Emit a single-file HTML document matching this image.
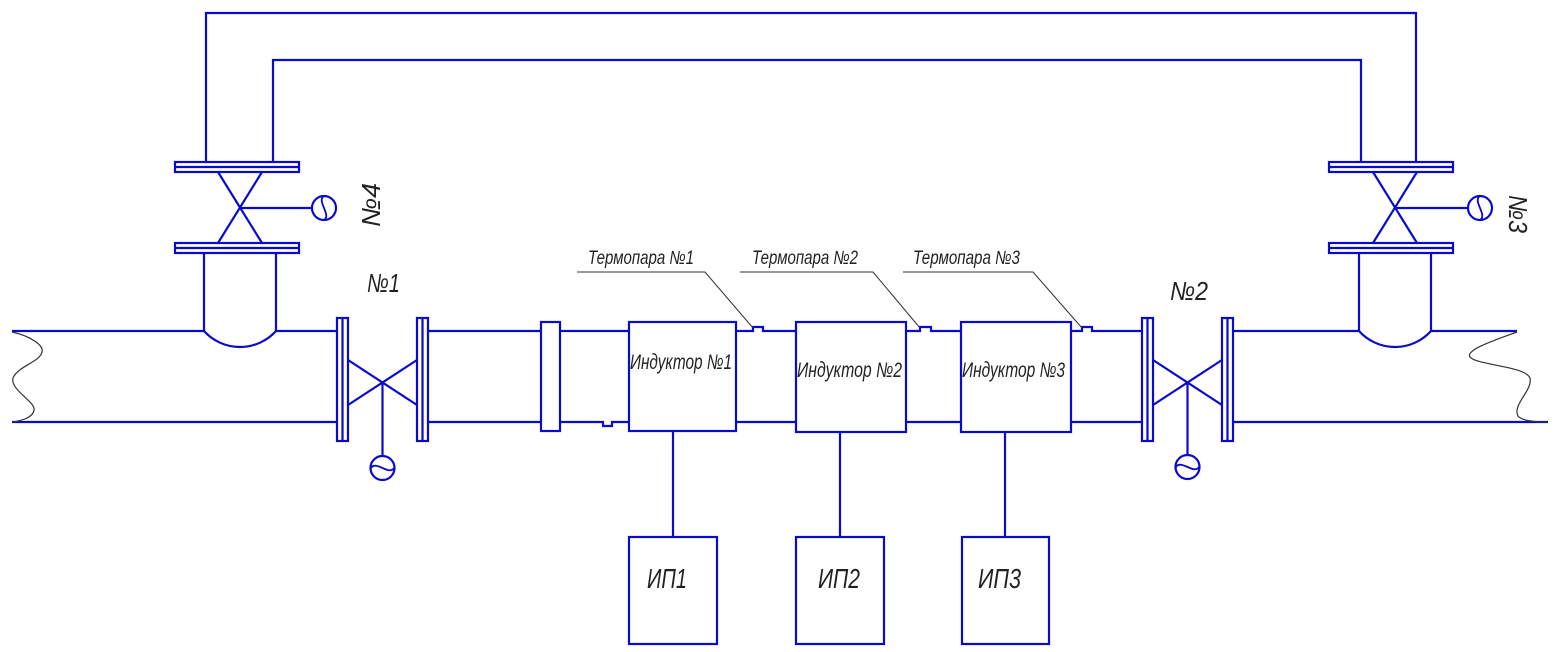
<!DOCTYPE html>
<html><head><meta charset="utf-8"><style>
html,body{margin:0;padding:0;background:#fff;}
svg{display:block;}
text{font-family:"Liberation Sans","DejaVu Sans",sans-serif;font-style:italic;fill:#222;}
</style></head><body>
<svg width="1556" height="652" viewBox="0 0 1556 652" xmlns="http://www.w3.org/2000/svg">
<g fill="none" stroke="#0a0acc" stroke-width="2.2">
<!-- top loop -->
<polyline points="206,162 206,13 1416,13 1416,162"/>
<polyline points="273,162 273,60 1361,60 1361,162"/>
<!-- left top valve -->
<rect x="175" y="162" width="124" height="10"/><line x1="175" y1="167" x2="299" y2="167"/>
<rect x="175" y="243" width="124" height="10"/><line x1="175" y1="248" x2="299" y2="248"/>
<line x1="218" y1="172" x2="262" y2="243"/><line x1="262" y1="172" x2="218" y2="243"/>
<line x1="240" y1="208" x2="312" y2="208"/>
<circle cx="324" cy="208" r="12"/>
<path d="M324,196 C316,201 332,215 324,220" stroke-width="1.8"/>
<line x1="204" y1="253" x2="204" y2="331"/><line x1="276" y1="253" x2="276" y2="331"/>
<path d="M204,331 A48.5,48.5 0 0 0 276,331"/>
<!-- right top valve -->
<rect x="1329" y="162" width="124" height="10"/><line x1="1329" y1="167" x2="1453" y2="167"/>
<rect x="1329" y="243" width="124" height="10"/><line x1="1329" y1="248" x2="1453" y2="248"/>
<line x1="1373" y1="172" x2="1417" y2="243"/><line x1="1417" y1="172" x2="1373" y2="243"/>
<line x1="1395" y1="208" x2="1468" y2="208"/>
<circle cx="1480" cy="208" r="12"/>
<path d="M1480,196 C1472,201 1488,215 1480,220" stroke-width="1.8"/>
<line x1="1359" y1="253" x2="1359" y2="331"/><line x1="1431" y1="253" x2="1431" y2="331"/>
<path d="M1359,331 A48.5,48.5 0 0 0 1431,331"/>
<!-- main pipe top -->
<line x1="12" y1="331" x2="204" y2="331"/>
<line x1="276" y1="331" x2="337" y2="331"/>
<line x1="428" y1="331" x2="541" y2="331"/>
<line x1="560" y1="331" x2="629" y2="331"/>
<polyline points="736,331 753,331 753,327 763,327 763,331 796,331"/>
<polyline points="906,331 920,331 920,327 931,327 931,331 961,331"/>
<polyline points="1071,331 1082,331 1082,327 1092,327 1092,331 1142,331"/>
<line x1="1233" y1="331" x2="1359" y2="331"/>
<line x1="1431" y1="331" x2="1517" y2="331"/>
<!-- main pipe bottom -->
<line x1="12" y1="422" x2="337" y2="422"/>
<line x1="428" y1="422" x2="541" y2="422"/>
<polyline points="560,422 603,422 603,426 612,426 612,422 629,422"/>
<line x1="736" y1="422" x2="796" y2="422"/>
<line x1="906" y1="422" x2="961" y2="422"/>
<line x1="1071" y1="422" x2="1142" y2="422"/>
<line x1="1233" y1="422" x2="1548" y2="422"/>
<!-- valve 1 -->
<rect x="337" y="318" width="11" height="123"/><line x1="342.5" y1="318" x2="342.5" y2="441"/>
<rect x="417" y="318" width="11" height="123"/><line x1="422.5" y1="318" x2="422.5" y2="441"/>
<line x1="348" y1="360" x2="417" y2="405"/><line x1="348" y1="405" x2="417" y2="360"/>
<line x1="382.5" y1="382.5" x2="382.5" y2="456"/>
<circle cx="382.5" cy="468" r="12"/>
<path d="M371,468 C376,460 389,476 394,468" stroke-width="1.8"/>
<!-- valve 2 -->
<rect x="1142" y="318" width="11" height="123"/><line x1="1147.5" y1="318" x2="1147.5" y2="441"/>
<rect x="1222" y="318" width="11" height="123"/><line x1="1227.5" y1="318" x2="1227.5" y2="441"/>
<line x1="1153" y1="360" x2="1222" y2="405"/><line x1="1153" y1="405" x2="1222" y2="360"/>
<line x1="1187.5" y1="382.5" x2="1187.5" y2="455"/>
<circle cx="1187.5" cy="467" r="12"/>
<path d="M1176,467 C1181,459 1194,475 1199,467" stroke-width="1.8"/>
<!-- coupling -->
<rect x="541" y="322" width="19" height="109"/>
<!-- inductors -->
<rect x="629" y="322" width="107" height="109"/>
<rect x="796" y="322" width="110" height="110"/>
<rect x="961" y="322" width="110" height="110"/>
<!-- connectors -->
<line x1="673" y1="431" x2="673" y2="537"/>
<line x1="840" y1="432" x2="840" y2="537"/>
<line x1="1005" y1="432" x2="1005" y2="537"/>
<!-- IP boxes -->
<rect x="629" y="537" width="88" height="107"/>
<rect x="796" y="537" width="88" height="107"/>
<rect x="962" y="537" width="87" height="107"/>
</g>
<!-- pipe break waves -->
<g fill="none" stroke="#333" stroke-width="1.2">
<path d="M12,332 C30,336 44,345 42,352 C40,362 18,366 13,378 C10,390 36,402 34,410 C33,418 20,421 12,422"/>
<path d="M1517,332 C1495,340 1465,350 1470,357 C1476,365 1525,366 1530,378 C1533,390 1512,405 1518,416 C1522,421 1535,422 1548,422"/>
</g>
<!-- leaders -->
<g fill="none" stroke="#333" stroke-width="1">
<polyline points="577,272 705,272 753,328"/>
<polyline points="740,272 873,272 920,328"/>
<polyline points="903,272 1033,272 1082,328"/>
</g>
<!-- labels -->
<text x="588" y="264" font-size="19" textLength="106" lengthAdjust="spacingAndGlyphs">Термопара №1</text>
<text x="752" y="264" font-size="19" textLength="106" lengthAdjust="spacingAndGlyphs">Термопара №2</text>
<text x="913" y="264" font-size="19" textLength="107" lengthAdjust="spacingAndGlyphs">Термопара №3</text>
<text x="630" y="369" font-size="21" textLength="102" lengthAdjust="spacingAndGlyphs">Индуктор №1</text>
<text x="797" y="377" font-size="21" textLength="105" lengthAdjust="spacingAndGlyphs">Индуктор №2</text>
<text x="962" y="377" font-size="21" textLength="103" lengthAdjust="spacingAndGlyphs">Индуктор №3</text>
<text x="367" y="292" font-size="26" textLength="33" lengthAdjust="spacingAndGlyphs">№1</text>
<text x="1170" y="300" font-size="26" textLength="38" lengthAdjust="spacingAndGlyphs">№2</text>
<text x="647" y="588" font-size="28" textLength="40" lengthAdjust="spacingAndGlyphs">ИП1</text>
<text x="818" y="588" font-size="28" textLength="42" lengthAdjust="spacingAndGlyphs">ИП2</text>
<text x="978" y="588" font-size="28" textLength="43" lengthAdjust="spacingAndGlyphs">ИП3</text>
<text transform="translate(380,227) rotate(-90)" font-size="26" textLength="44" lengthAdjust="spacingAndGlyphs">№4</text>
<text transform="translate(1509,195) rotate(90)" font-size="26" textLength="38" lengthAdjust="spacingAndGlyphs">№3</text>
</svg>
</body></html>
